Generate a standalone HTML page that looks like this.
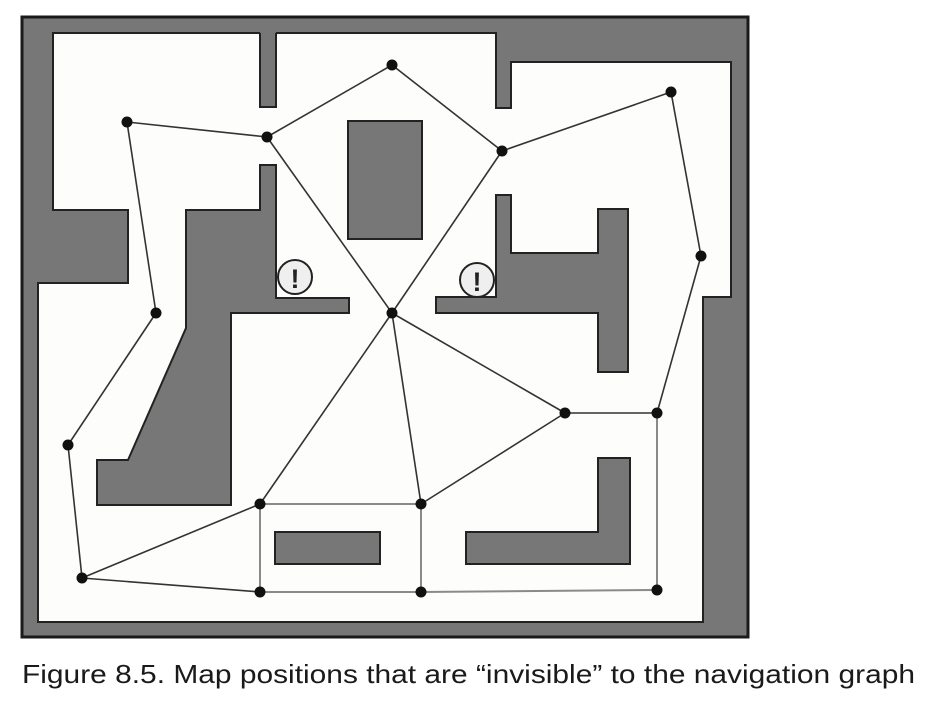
<!DOCTYPE html>
<html><head><meta charset="utf-8"><style>
html,body{margin:0;padding:0;background:#fff;width:948px;height:716px;overflow:hidden}
svg{display:block}
</style></head><body>
<svg id="fig" width="948" height="716" viewBox="0 0 948 716">
<g stroke="#222" stroke-width="2">
<rect x="22" y="17" width="726" height="620" fill="#777" stroke="#1a1a1a" stroke-width="3"/>
<polygon fill="#fdfdfb" points="53,33 496,33 496,108 511,108 511,62 731,62 731,297 703,297 703,622 38,622 38,283 128,283 128,210 53,210"/>
<rect x="260" y="30" width="16" height="77" fill="#777" stroke="none"/>
<path d="M260,33 V107 H276 V33" fill="none"/>
<polygon fill="#777" points="186,210 260,210 260,165 276,165 276,298 349,298 349,313 231,313 231,505 97,505 97,460 128,460 186,328"/>
<rect x="348" y="121" width="74" height="118" fill="#777"/>
<polygon fill="#777" points="496,195 511,195 511,253 598,253 598,209 628,209 628,372 598,372 598,313 436,313 436,297 496,297"/>
<rect x="275" y="532" width="105" height="32" fill="#777"/>
<polygon fill="#777" points="598,458 630,458 630,564 466,564 466,532 598,532"/>
</g>
<g id="edges"></g>
<g id="nodes"></g>
<g>
<circle cx="295" cy="277" r="17" fill="#efefef" stroke="#222" stroke-width="2"/>
<text x="295" y="288" text-anchor="middle" font-family="Liberation Sans, sans-serif" font-weight="bold" font-size="27" fill="#222">!</text>
</g>
<g>
<circle cx="477" cy="280" r="17" fill="#efefef" stroke="#222" stroke-width="2"/>
<text x="477" y="291" text-anchor="middle" font-family="Liberation Sans, sans-serif" font-weight="bold" font-size="27" fill="#222">!</text>
</g>
<text x="22" y="683" font-family="Liberation Sans, sans-serif" font-size="26" fill="#1a1a1a" textLength="893" lengthAdjust="spacingAndGlyphs">Figure 8.5. Map positions that are “invisible” to the navigation graph</text>
</svg>
<script>
const nodeX = [392,127,267,502,671,701,156,392,68,565,657,260,421,82,260,421,657];
const nodeY = [65,122,137,151,92,256,313,313,445,413,413,504,504,578,592,592,590];
const darkEdges = [[1,2],[2,0],[0,3],[3,4],[4,5],[5,10],[1,6],[6,8],[8,13],[13,11],[13,14],[2,7],[3,7],[7,11],[7,12],[7,9],[9,12],[9,10]];
const greyEdges = [[11,12],[11,14],[12,15],[14,15],[15,16],[10,16]];
const NS='http://www.w3.org/2000/svg';
const eg=document.getElementById('edges'), ng=document.getElementById('nodes');
function addEdge(e,color,w,name){
  const l=document.createElementNS(NS,'line');
  l.setAttribute('x1',nodeX[e[0]]);l.setAttribute('y1',nodeY[e[0]]);
  l.setAttribute('x2',nodeX[e[1]]);l.setAttribute('y2',nodeY[e[1]]);
  l.setAttribute('stroke',color);l.setAttribute('stroke-width',w);
  
  
  eg.appendChild(l);
}
greyEdges.forEach(e=>addEdge(e,'#8a8a8a',2,'grey-edge'));
darkEdges.forEach(e=>addEdge(e,'#333',1.6,'graph-edge'));
nodeX.forEach((x,i)=>{
  const c=document.createElementNS(NS,'circle');
  c.setAttribute('cx',x);c.setAttribute('cy',nodeY[i]);c.setAttribute('r',5.5);c.setAttribute('fill','#111');
  
  
  ng.appendChild(c);
});
</script>
</body></html>
